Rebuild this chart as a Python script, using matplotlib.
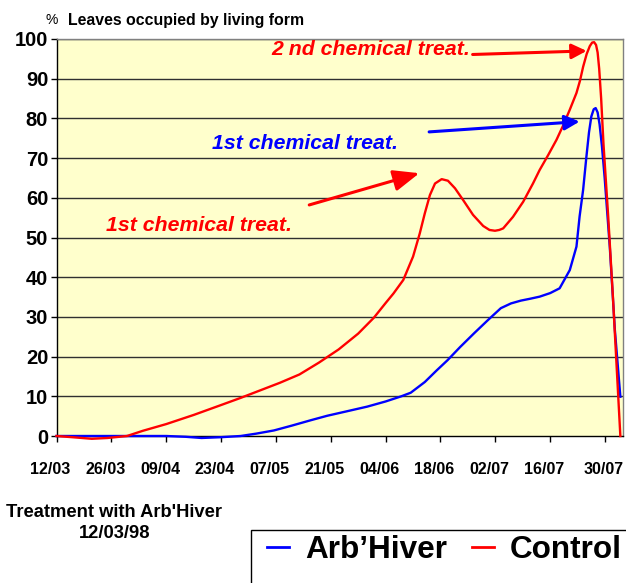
import matplotlib
matplotlib.use("Agg")
import matplotlib.pyplot as plt
from matplotlib.patches import Rectangle
from matplotlib.transforms import ScaledTranslation

plt.rcParams['font.family'] = ['Liberation Sans', 'DejaVu Sans']

# Data (days since 12/03/98)
control_days = [0, 4, 9, 13, 18, 22, 28, 35, 42, 47, 52, 57, 62, 67, 72, 77, 81, 84, 86,
                88.5, 91, 92.7, 94, 95.3, 96.6, 98.3, 99.9, 101.7, 103.8, 106.3, 108.9,
                110.5, 111.9, 113, 114, 116.5, 119.1, 121.6, 123.3, 125.5, 127.6, 129.2,
                131, 132.7, 133.6, 134.4, 135.3, 136.1, 136.7, 137.2, 137.7, 138.1, 138.5,
                139.0, 139.6, 140.8, 142.0, 143.9]
control_vals = [0, -0.3, -0.7, -0.5, 0, 1.3, 3.0, 5.3, 7.8, 9.6, 11.5, 13.4, 15.5, 18.5,
                21.8, 25.8, 29.8, 33.5, 35.9, 39.3, 45.2, 51, 56.1, 60.7, 63.6, 64.7, 64.3,
                62.4, 59.4, 55.7, 52.9, 51.9, 51.7, 51.9, 52.3, 55.2, 59, 63.6, 67, 70.8,
                74.6, 78, 82.2, 86.4, 89.5, 93, 96.2, 98.2, 99.1, 99.2, 98.5, 96.6, 92.5,
                85, 73.5, 55.3, 35.1, 0]

arb_days = [0, 7, 14, 21, 28, 33, 37, 42, 47, 51, 55.5, 60, 65, 69.1, 74, 79.3, 84, 88,
            90.4, 94, 97, 99.8, 103, 106.6, 110, 113.4, 116, 118.5, 121, 123.3, 126, 128.4,
            131, 132.7, 133.5, 134.4, 135.2, 135.9, 136.5, 137.1, 137.6, 138.1, 138.6,
            139.2, 139.9, 141.2, 142.5, 143.9]
arb_vals = [0, 0, 0, 0, 0, -0.2, -0.5, -0.3, 0, 0.6, 1.4, 2.6, 4.0, 5.1, 6.2, 7.4, 8.7, 10,
            10.9, 13.6, 16.5, 19.1, 22.4, 25.9, 29.1, 32.2, 33.4, 34.1, 34.6, 35.1, 36.0,
            37.2, 41.8, 47.7, 55.3, 62, 70, 76.5, 80.5, 82.3, 82.6, 81.5, 78.5, 73, 65,
            47.7, 26.7, 9.9]

tick_days = [0, 14, 28, 42, 56, 70, 84, 98, 112, 126, 140]
tick_labels = ['12/03', '26/03', '09/04', '23/04', '07/05', '21/05', '04/06', '18/06',
               '02/07', '16/07', '30/07']
y_ticks = [0, 10, 20, 30, 40, 50, 60, 70, 80, 90, 100]

W, H = 626, 583
fig = plt.figure(figsize=(W / 100, H / 100), dpi=100)
ax = fig.add_axes([56.5 / W, 1 - 436 / H, (622.7 - 56.5) / W, (436 - 39) / H])
ax.set_facecolor('#FFFFCC')

for v in y_ticks[1:]:
    ax.axhline(v, color='#303030', lw=1.0, zorder=1)

ax.plot(arb_days, arb_vals, color='#0000FF', lw=1.7, clip_on=False, zorder=3,
        label="Arb\u2019Hiver", solid_joinstyle='round')
ax.plot(control_days, control_vals, color='#FF0000', lw=1.7, clip_on=False, zorder=3,
        label='Control', solid_joinstyle='round')

ax.set_xlim(0, 144.5)
ax.set_ylim(0, 100)
ax.set_xticks(tick_days)
ax.set_xticklabels(tick_labels, fontsize=11.5, fontweight='bold')
ax.set_yticks(y_ticks)
ax.set_yticklabels([str(v) for v in y_ticks], fontsize=14.5, fontweight='bold')
ax.tick_params(axis='x', direction='out', length=4, width=1, pad=15)
ax.tick_params(axis='y', direction='out', length=4, width=1, pad=2)
xlabs = ax.get_xticklabels()
for i, lab in enumerate(xlabs):
    dx = -1 if i == len(xlabs) - 1 else -6
    lab.set_transform(lab.get_transform() + ScaledTranslation(dx / 100, 0, fig.dpi_scale_trans))

for s in ['top', 'right']:
    ax.spines[s].set_color('#808080')
for s in ['left', 'bottom']:
    ax.spines[s].set_color('black')
for s in ax.spines.values():
    s.set_linewidth(1.0)

# Annotations
fs_ann = 15.3
ax.text(80.2, 97.4, '2 nd chemical treat.', color='#FF0000', fontsize=fs_ann, fontweight='bold',
        style='italic', ha='center', va='center')
ax.text(63.5, 73.8, '1st chemical treat.', color='#0000FF', fontsize=fs_ann, fontweight='bold',
        style='italic', ha='center', va='center')
ax.text(36.4, 52.9, '1st chemical treat.', color='#FF0000', fontsize=fs_ann, fontweight='bold',
        style='italic', ha='center', va='center')

ax.annotate('', xy=(135.3, 97.0), xytext=(106.2, 96.1),
            arrowprops=dict(arrowstyle='-|>,head_length=0.6,head_width=0.3', color='#FF0000',
                            lw=2.2, mutation_scale=15, shrinkA=0, shrinkB=0), annotation_clip=False)
ax.annotate('', xy=(133.5, 79.2), xytext=(95.1, 76.6),
            arrowprops=dict(arrowstyle='-|>,head_length=0.6,head_width=0.3', color='#0000FF',
                            lw=2.2, mutation_scale=15, shrinkA=0, shrinkB=0), annotation_clip=False)
ax.annotate('', xy=(92.6, 66.2), xytext=(64.5, 58.2),
            arrowprops=dict(arrowstyle='-|>,head_length=1.05,head_width=0.43', color='#FF0000',
                            lw=2.2, mutation_scale=15, shrinkA=0, shrinkB=0), annotation_clip=False)

# Y title
fig.text(46 / W, 1 - 20 / H, '%', fontsize=10, ha='left', va='center')
fig.text(68 / W, 1 - 20 / H, 'Leaves occupied by living form', fontsize=11.4, fontweight='bold',
         ha='left', va='center')

# Treatment note
fig.text(114.5 / W, 1 - 523 / H, "Treatment with Arb'Hiver\n12/03/98", fontsize=13.2,
         fontweight='bold', ha='center', va='center', multialignment='center', linespacing=1.3)

# Legend box
fig.patches.append(Rectangle((250.5 / W, -0.05), 1.0, (583 - 530) / H + 0.05,
                             transform=fig.transFigure, facecolor='white', edgecolor='black',
                             lw=1.0, zorder=0))
leg = fig.legend(loc='center left', bbox_to_anchor=(267 / W, 1 - 550 / H), ncol=2,
                 frameon=False, prop={'size': 22.7, 'weight': 'bold'}, handlelength=0.7,
                 handletextpad=0.5, columnspacing=0.8, borderpad=0, borderaxespad=0)
for line in leg.get_lines():
    line.set_linewidth(2.0)

fig.savefig('out.png', dpi=100)
